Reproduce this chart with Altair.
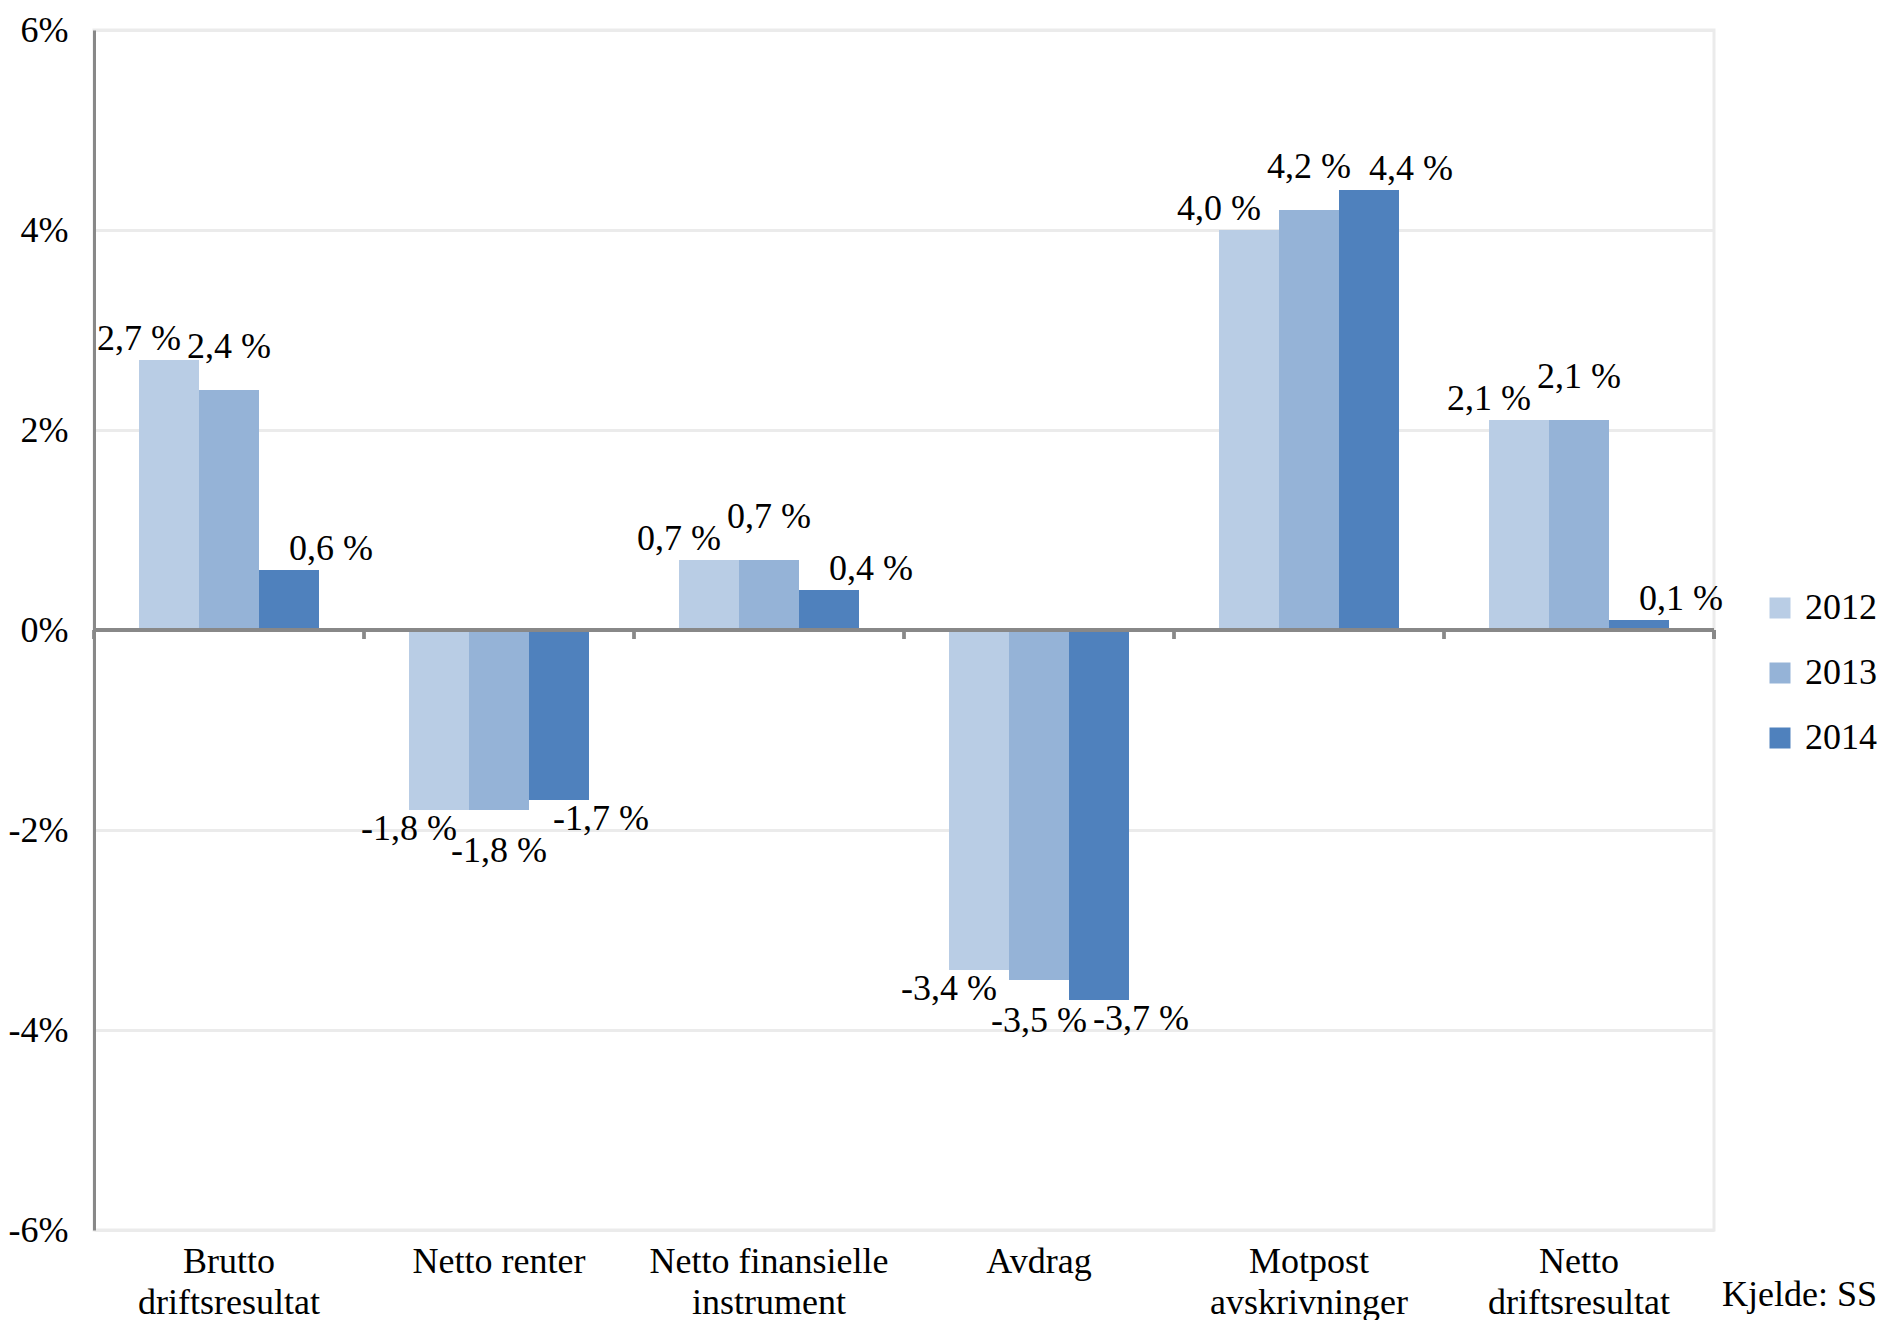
import altair as alt
import pandas as pd

years = ["2012", "2013", "2014"]
categories = [
    "Brutto\ndriftsresultat",
    "Netto renter",
    "Netto finansielle\ninstrument",
    "Avdrag",
    "Motpost\navskrivninger",
    "Netto\ndriftsresultat",
]
values_2012 = [2.7, -1.8, 0.7, -3.4, 4.0, 2.1]
values_2013 = [2.4, -1.8, 0.7, -3.5, 4.2, 2.1]
values_2014 = [0.6, -1.7, 0.4, -3.7, 4.4, 0.1]
y_ticks = [-6, -4, -2, 0, 2, 4, 6]
colors = ["#b9cde5", "#95b3d7", "#4f81bd"]
source_note = "Kjelde: SS"

series = {"2012": values_2012, "2013": values_2013, "2014": values_2014}
rows = []
for yr in years:
    for cat, v in zip(categories, series[yr]):
        rows.append({
            "category": cat,
            "year": yr,
            "value": v,
            "label": f"{v:.1f}".replace(".", ",") + " %",
        })
df = pd.DataFrame(rows)

FONT = "Liberation Serif"
W, H = 1620, 1200
GRAY = "#888888"

x_scale = alt.Scale(domain=categories, paddingInner=0, paddingOuter=0)
off_scale = alt.Scale(domain=years, paddingInner=0, paddingOuter=0.75)
y_scale = alt.Scale(domain=[-6, 6], nice=False)

x_axis = alt.Axis(
    labelExpr="split(datum.label, '\\n')", domain=False, ticks=False,
    labelPadding=14, labelFontSize=36, labelFont=FONT, labelColor="black",
    labelLineHeight=41, labelAngle=0, labelLimit=0, grid=False,
)
y_axis = alt.Axis(
    values=y_ticks, labelExpr="datum.value + '%'", ticks=False, tickSize=0,
    labelPadding=26, labelFontSize=36, labelFont=FONT, labelColor="black",
    domainColor=GRAY, domainWidth=3,
    grid=True, gridColor="#ebebeb", gridWidth=3,
)


def X():
    return alt.X("category:N", scale=x_scale, sort=categories, title=None, axis=x_axis)


def XO():
    return alt.XOffset("year:N", scale=off_scale)


def Y():
    return alt.Y("value:Q", scale=y_scale, title=None, axis=y_axis)


base = alt.Chart(df)

bars = base.mark_bar().encode(
    x=X(), xOffset=XO(), y=Y(),
    color=alt.Color(
        "year:N", scale=alt.Scale(domain=years, range=colors),
        legend=alt.Legend(
            title=None, orient="none", legendX=1668, legendY=560,
            symbolType="square", symbolSize=441, symbolStrokeWidth=0,
            labelFontSize=36, labelFont=FONT, labelColor="black",
            rowPadding=29, labelOffset=7, padding=0,
        ),
    ),
)

zero_line = base.mark_rule(color=GRAY, strokeWidth=3).encode(y=alt.datum(0))

cat_ticks = base.mark_rule(color=GRAY, strokeWidth=3, y2Offset=9).encode(
    x=alt.X("category:N", scale=x_scale, sort=categories, title=None,
            axis=x_axis, bandPosition=0),
    y=alt.datum(0), y2=alt.datum(0),
)
end_tick = base.mark_rule(color=GRAY, strokeWidth=3, y2Offset=9).encode(
    x=alt.value("width"), y=alt.datum(0), y2=alt.datum(0),
)

texts = []
dx_by_year = {"2012": -30, "2013": 0, "2014": 42}
extra_dy = {"2012": 0, "2013": 22, "2014": 0}
for yr in years:
    for positive in (True, False):
        cond = f"datum.year == '{yr}' && datum.value {'>=' if positive else '<'} 0"
        gap = 2 + extra_dy[yr]
        t = base.transform_filter(cond).mark_text(
            font=FONT, fontSize=36, color="black", align="center",
            baseline="bottom" if positive else "top",
            dx=dx_by_year[yr], dy=-gap if positive else gap,
        ).encode(x=X(), xOffset=XO(), y=Y(), text="label:N")
        texts.append(t)

chart = alt.layer(bars, zero_line, cat_ticks, end_tick, *texts).properties(
    width=W, height=H,
    padding={"left": 0, "top": 4, "right": 0, "bottom": 0},
    title=alt.TitleParams(
        text=source_note, orient="bottom", anchor="end", frame="bounds",
        offset=-42, fontSize=36, font=FONT, fontWeight="normal", color="black",
    ),
).configure_view(stroke="#ebebeb", strokeWidth=3)

chart.save("out.html", embed_options={"renderer": "svg", "actions": False})
